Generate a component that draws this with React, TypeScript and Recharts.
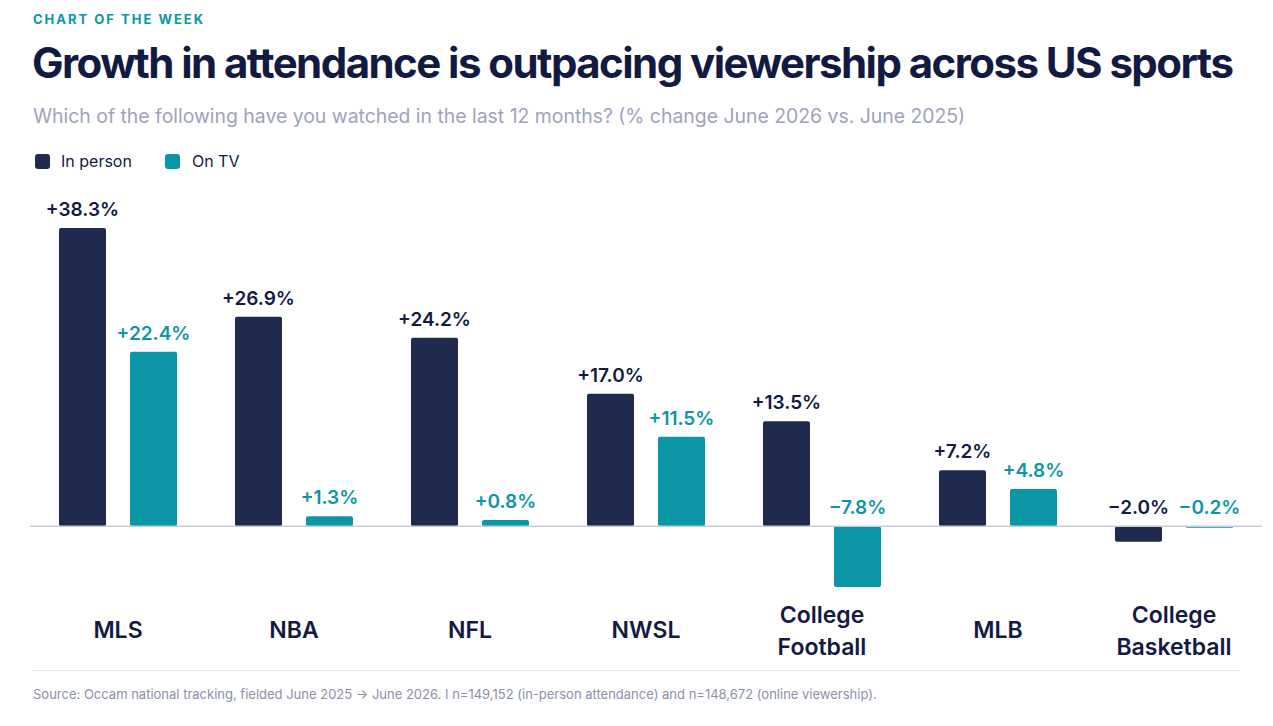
import { Bar, BarChart, LabelList, ReferenceLine, XAxis, YAxis } from "recharts";

const sports = ["MLS", "NBA", "NFL", "NWSL", "College Football", "MLB", "College Basketball"];
const inPerson = [38.3, 26.9, 24.2, 17.0, 13.5, 7.2, -2.0];
const onTv = [22.4, 1.3, 0.8, 11.5, -7.8, 4.8, -0.2];

const NAVY = "#1e2a4e";
const TEAL = "#0a96a4";
const INK = "#121a42";

const data = sports.map((name, i) => ({ name, inPerson: inPerson[i], onTv: onTv[i] }));

const fmt = (v: number) => (v >= 0 ? `+${v.toFixed(1)}%` : `\u2212${Math.abs(v).toFixed(1)}%`);

function valueLabel(color: string) {
  return (props: any) => {
    const { x, y, width, height, value } = props;
    const top = Math.min(Number(y), Number(y) + Number(height));
    return (
      <text
        x={Number(x) + Number(width) / 2}
        y={top - 12}
        textAnchor="middle"
        fill={color}
        fontSize={19}
        fontWeight={600}
        fontFamily="Inter"
      >
        {fmt(Number(value))}
      </text>
    );
  };
}

function CategoryTick(props: any) {
  const { x, y, payload } = props;
  const words: string[] = payload.value.split(" ");
  const lines = words.length > 1 ? words : [payload.value];
  const first = lines.length > 1 ? 36 : 51;
  return (
    <text x={x} y={y} textAnchor="middle" fill={INK} fontSize={23} fontWeight={600} fontFamily="Inter">
      {lines.map((l, i) => (
        <tspan key={l} x={x} dy={i === 0 ? first : 32}>
          {l}
        </tspan>
      ))}
    </text>
  );
}

export default function App() {
  return (
    <div
      style={{
        position: "absolute",
        left: 0,
        top: 0,
        width: 1273,
        height: 726,
        background: "#fff",
        fontFamily: "Inter, sans-serif",
        overflow: "hidden",
      }}
    >
      <div style={{ position: "absolute", left: 33, top: 11, fontSize: 13, fontWeight: 700, letterSpacing: 2, color: TEAL }}>
        CHART OF THE WEEK
      </div>
      <div
        style={{
          position: "absolute",
          left: 32,
          top: 37,
          fontSize: 42,
          fontWeight: 700,
          letterSpacing: -1.55,
          color: INK,
          whiteSpace: "nowrap",
        }}
      >
        Growth in attendance is outpacing viewership across US sports
      </div>
      <div style={{ position: "absolute", left: 33, top: 104, fontSize: 19.4, color: "#9ca3ba", whiteSpace: "nowrap" }}>
        Which of the following have you watched in the last 12 months? (% change June 2026 vs. June 2025)
      </div>
      <div style={{ position: "absolute", left: 35, top: 151, display: "flex", alignItems: "center", fontSize: 16, color: INK }}>
        <span style={{ width: 15, height: 15, borderRadius: 3, background: NAVY, marginRight: 11 }} />
        <span style={{ marginRight: 33 }}>In person</span>
        <span style={{ width: 15, height: 15, borderRadius: 3, background: TEAL, marginRight: 12 }} />
        <span>On TV</span>
      </div>

      <div style={{ position: "absolute", left: 0, top: 0 }}>
        <BarChart
          width={1273}
          height={670}
          data={data}
          margin={{ top: 228, right: 11, left: 30, bottom: 13 }}
          barGap={24}
          barCategoryGap={29}
        >
          <XAxis dataKey="name" axisLine={false} tickLine={false} tickSize={0} tickMargin={0} height={70} interval={0} tick={<CategoryTick />} />
          <YAxis hide domain={[-7.8, 38.3]} />
          <ReferenceLine y={0} stroke="#c7cbd8" strokeWidth={1.5} />
          <Bar dataKey="inPerson" fill={NAVY} radius={2} isAnimationActive={false}>
            <LabelList dataKey="inPerson" content={valueLabel(INK)} />
          </Bar>
          <Bar dataKey="onTv" fill={TEAL} radius={2} isAnimationActive={false}>
            <LabelList dataKey="onTv" content={valueLabel(TEAL)} />
          </Bar>
        </BarChart>
      </div>

      <div style={{ position: "absolute", left: 33, top: 670, width: 1207, height: 1, background: "#e6e8ee" }} />
      <div style={{ position: "absolute", left: 33, top: 686, fontSize: 13, color: "#8a90a8", whiteSpace: "nowrap" }}>
        Source: Occam national tracking, fielded June 2025 → June 2026. I n=149,152 (in-person attendance) and n=148,672 (online viewership).
      </div>
    </div>
  );
}
